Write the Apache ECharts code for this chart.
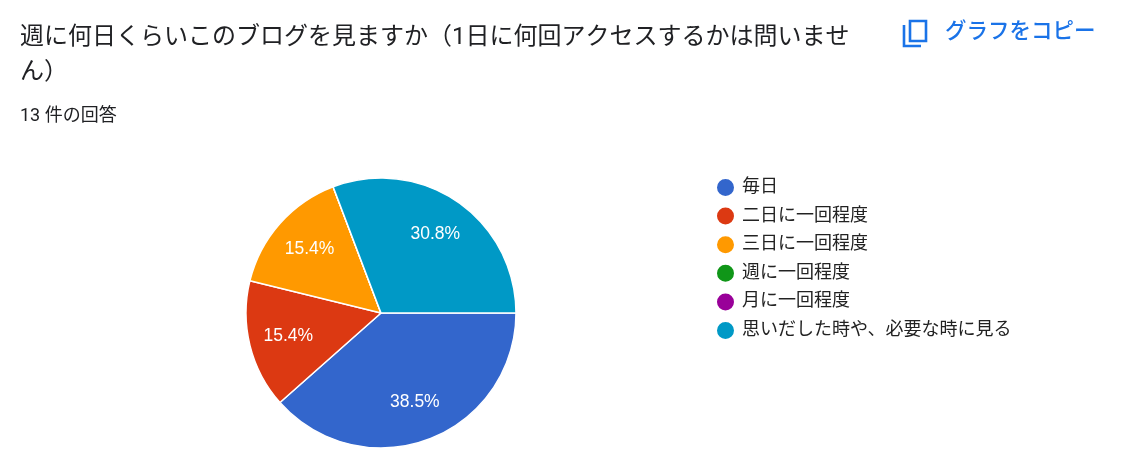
<!DOCTYPE html>
<html>
<head>
    <meta charset="UTF-8">
    <script type="text/javascript" src="https://cdn.jsdelivr.net/npm/echarts@6/dist/echarts.min.js"></script>
    <style type="text/css">
        *{
            margin: 0;
            padding: 0;
        }
        #main{
            width: 1121px;
            height: 457px;
        }
    </style>
</head>
<body>
<div id="main"></div>
<script type="text/javascript">
    // 回答データ
    var categories = ['毎日', '二日に一回程度', '三日に一回程度', '週に一回程度', '月に一回程度', '思いだした時や、必要な時に見る'];
    var counts = [5, 2, 2, 0, 0, 4];
    var colors = ['#3366cc', '#dc3912', '#ff9900', '#109618', '#990099', '#0099c6'];
    var titleText = '週に何日くらいこのブログを見ますか（1日に何回アクセスするかは問いませ\nん）';
    var answerText = '13 件の回答';

    var font = 'Roboto, "Noto Sans CJK JP", sans-serif';
    var total = counts.reduce(function (a, b) { return a + b; }, 0);

    var pieData = categories.map(function (name, i) {
        return {name: name, value: counts[i], itemStyle: {color: colors[i]}};
    });
    // ラベル用（透明）
    var labelData = categories.map(function (name, i) {
        return {name: name, value: counts[i]};
    });

    var myChart = echarts.init(document.getElementById('main'));
    var option = {
        backgroundColor: '#fff',
        animation: false,
        title: [
            {
                text: titleText,
                left: 15,
                top: 15,
                textStyle: {
                    fontFamily: font,
                    fontSize: 24,
                    fontWeight: 'normal',
                    color: '#202124',
                    lineHeight: 35
                }
            },
            {
                text: answerText,
                left: 15,
                top: 103,
                textStyle: {
                    fontFamily: font,
                    fontSize: 18,
                    fontWeight: 'normal',
                    color: '#202124'
                }
            },
            {
                text: 'グラフをコピー',
                left: 940,
                top: 17,
                textStyle: {
                    fontFamily: font,
                    fontSize: 21.5,
                    fontWeight: 500,
                    color: '#1a73e8'
                }
            }
        ],
        graphic: [
            {
                type: 'polyline',
                shape: {points: [[904, 25], [904, 46], [921, 46]]},
                style: {stroke: '#1a73e8', lineWidth: 2.6, fill: null}
            },
            {
                type: 'rect',
                shape: {x: 910, y: 21, width: 16, height: 20},
                style: {stroke: '#1a73e8', lineWidth: 2.6, fill: null}
            }
        ],
        legend: {
            orient: 'vertical',
            left: 710,
            top: 172,
            icon: 'circle',
            itemWidth: 19,
            itemHeight: 19,
            itemGap: 7.6,
            data: categories,
            textStyle: {
                fontFamily: font,
                fontSize: 18,
                lineHeight: 18,
                padding: [0, 0, 0, 2],
                color: '#222'
            }
        },
        series: [
            {
                name: 'pie',
                type: 'pie',
                center: [381, 313],
                radius: [0, 135],
                startAngle: 0,
                clockwise: true,
                silent: true,
                label: {show: false},
                labelLine: {show: false},
                itemStyle: {
                    borderColor: '#fff',
                    borderWidth: 1.5
                },
                data: pieData
            },
            {
                name: 'labels',
                type: 'pie',
                center: [381, 313],
                radius: [50, 135],
                startAngle: 0,
                clockwise: true,
                silent: true,
                legendHoverLink: false,
                itemStyle: {color: 'rgba(0,0,0,0)'},
                label: {
                    show: true,
                    position: 'inner',
                    fontFamily: 'Arial, "Liberation Sans", sans-serif',
                    fontSize: 17.5,
                    color: '#fff',
                    formatter: function (p) {
                        if (!p.value) return '';
                        return (p.value / total * 100).toFixed(1) + '%';
                    }
                },
                labelLine: {show: false},
                data: labelData
            }
        ]
    };
    myChart.setOption(option);
</script>
</body>
</html>
